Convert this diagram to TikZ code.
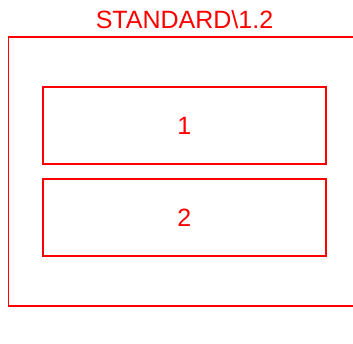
\documentclass[tikz,border=0pt]{standalone}
\usepackage{fontspec}
\setmainfont{Liberation Sans}
\begin{document}
\begin{tikzpicture}[x=1pt,y=-1pt,
  box/.style={draw=red, line width=1.5pt, rectangle, inner sep=0pt, anchor=north west},
  lbl/.style={text=red, font=\fontsize{25}{30}\selectfont, inner sep=0pt}]
\useasboundingbox (0,0) rectangle (353,344);
\clip (0,0) rectangle (353,344);
\node[box, minimum width=350pt, minimum height=269pt] (outer) at (7.5,36.5) {};
\node[lbl] (title) at (184.5,19.5) {STANDARD\textbackslash 1.2};
\node[box, minimum width=283pt, minimum height=77pt] (b1) at (42,86.5) {};
\node[box, minimum width=283pt, minimum height=77pt] (b2) at (42,178.5) {};
\node[lbl] (t1) at (b1.center) {1};
\node[lbl] (t2) at (b2.center) {2};
\end{tikzpicture}
\end{document}
